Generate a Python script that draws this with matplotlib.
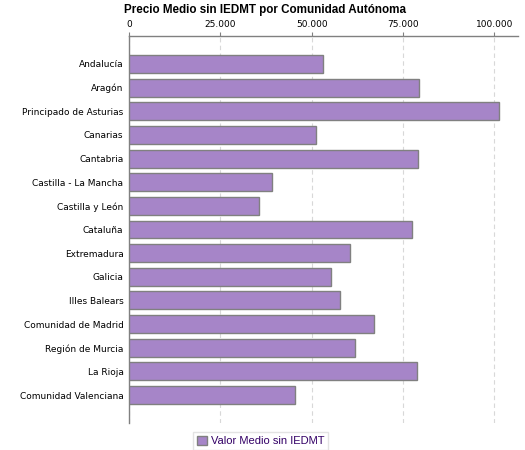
import matplotlib
matplotlib.use("Agg")
import matplotlib.pyplot as plt
from matplotlib.ticker import FuncFormatter

categories = ["Andalucía", "Aragón", "Principado de Asturias", "Canarias", "Cantabria",
              "Castilla - La Mancha", "Castilla y León", "Cataluña", "Extremadura",
              "Galicia", "Illes Balears", "Comunidad de Madrid", "Región de Murcia",
              "La Rioja", "Comunidad Valenciana"]
values = [53000, 79300, 101200, 51100, 79000, 39100, 35500, 77400, 60400,
          55200, 57700, 67000, 61800, 78800, 45400]
series_name = "Valor Medio sin IEDMT"
title = "Precio Medio sin IEDMT por Comunidad Autónoma"
xticks = [0, 25000, 50000, 75000, 100000]

fig = plt.figure(figsize=(5.25, 4.5), dpi=100)
W, H = 525, 450
ax = fig.add_axes([129 / W, 1 - 423 / H, (518 - 129) / W, (423 - 36) / H])

y = list(range(len(categories)))
ax.barh(y, values, height=0.76, color="#A685C8", edgecolor="#808080", linewidth=1.0,
        label=series_name, zorder=3)
ax.set_ylim(len(categories) - 1 + 1.18, -1.18)
ax.set_xlim(0, 106500)
ax.set_yticks(y)
ax.set_yticklabels(categories, fontsize=6.5, family="DejaVu Sans")
ax.set_xticks(xticks)
ax.xaxis.set_major_formatter(FuncFormatter(lambda v, p: f"{int(v):,}".replace(",", ".")))
ax.xaxis.tick_top()
ax.tick_params(axis="x", labelsize=6.5, length=3, color="#808080", pad=2)
ax.tick_params(axis="y", length=0, pad=4)
for lab in ax.get_xticklabels():
    lab.set_family("DejaVu Sans")
ax.grid(axis="x", color="#d8d8d8", linestyle=(0, (4, 3)), linewidth=0.8, zorder=0)
for s in ["right", "bottom"]:
    ax.spines[s].set_visible(False)
for s in ["top", "left"]:
    ax.spines[s].set_color("#808080")
    ax.spines[s].set_linewidth(1.0)

fig.text(0.5 * (124 + 405) / W, 1 - 10 / H, title, ha="center", va="center",
         fontsize=8.4, fontweight="bold", family="Liberation Sans")

leg = fig.legend(loc="center", bbox_to_anchor=(260.5 / W, 1 - 441 / H), frameon=True,
                 prop={"family": "Liberation Sans", "size": 8},
                 handlelength=0.9, handleheight=0.9, handletextpad=0.4,
                 borderpad=0.35, fancybox=False, borderaxespad=0)
leg.get_frame().set_edgecolor("#dddddd")
leg.get_frame().set_linewidth(1.0)
for t in leg.get_texts():
    t.set_color("#330066")

fig.savefig("out.png", dpi=100)
